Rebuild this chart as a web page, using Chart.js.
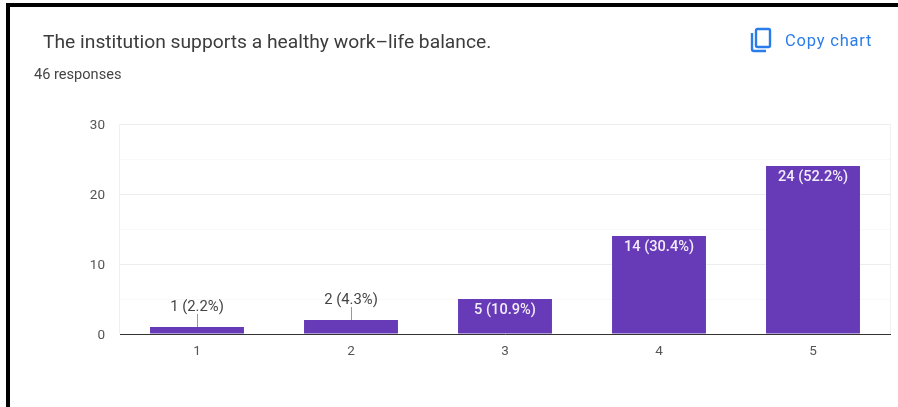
<!DOCTYPE html>
<html>
<head>
<meta charset="utf-8">
<style>
  html, body { margin: 0; padding: 0; background: #fff; }
  body { width: 898px; height: 407px; overflow: hidden; position: relative; font-family: Roboto, sans-serif; }
  #frame { position: absolute; left: 6px; top: 3px; width: 892px; height: 404px; border-top: 4px solid #000; border-left: 4px solid #000; box-sizing: border-box; }
  #title { position: absolute; left: 43px; top: 31px; font-size: 19.25px; line-height: 22px; color: #3c3c3c; white-space: nowrap; }
  #sub { position: absolute; left: 34px; top: 66px; font-size: 14.6px; line-height: 16px; color: #444; white-space: nowrap; }
  #copy { position: absolute; left: 785px; top: 32px; font-size: 16.5px; line-height: 18px; letter-spacing: 0.8px; color: #2a7de9; white-space: nowrap; }
  #icon { position: absolute; left: 750px; top: 27px; }
  #c { position: absolute; left: 0; top: 0; }
</style>
</head>
<body>
<canvas id="c" width="898" height="407"></canvas>
<div id="frame"></div>
<div id="title">The institution supports a healthy work–life balance.</div>
<div id="sub">46 responses</div>
<svg id="icon" width="22" height="26" viewBox="0 0 22 26" fill="none" stroke="#2a7de9" stroke-width="2.4">
  <rect x="6" y="2" width="14" height="18" rx="1.5"></rect>
  <path d="M2 6 V22 a2 2 0 0 0 2 2 H16"></path>
</svg>
<div id="copy">Copy chart</div>
<script src="https://cdn.jsdelivr.net/npm/chart.js@4"></script>
<script>
const categories = ['1', '2', '3', '4', '5'];
const counts = [1, 2, 5, 14, 24];
const percents = ['2.2%', '4.3%', '10.9%', '30.4%', '52.2%'];
const yTickLabels = [0, 10, 20, 30];

// value labels: inside the bar when it fits, otherwise above with a leader line
const barLabels = {
  id: 'barLabels',
  afterDatasetsDraw(chart) {
    const ctx = chart.ctx;
    chart.getDatasetMeta(0).data.forEach((bar, i) => {
      const text = counts[i] + ' (' + percents[i] + ')';
      ctx.save();
      ctx.textAlign = 'center';
      ctx.textBaseline = 'middle';
      if (counts[i] >= 5) {
        ctx.font = '500 14.6px Roboto';
        ctx.fillStyle = '#f1ecf9';
        ctx.fillText(text, bar.x, bar.y + 11);
      } else {
        ctx.strokeStyle = '#999';
        ctx.beginPath();
        ctx.moveTo(Math.round(bar.x) + 0.5, bar.y);
        ctx.lineTo(Math.round(bar.x) + 0.5, bar.y - 13);
        ctx.stroke();
        ctx.font = '14.8px Roboto';
        ctx.fillStyle = '#444';
        ctx.fillText(text, bar.x, bar.y - 20);
      }
      ctx.restore();
    });
  }
};

// light lines on the left and right of the plot
const plotSides = {
  id: 'plotSides',
  beforeDatasetsDraw(chart) {
    const { ctx, chartArea } = chart;
    ctx.save();
    ctx.strokeStyle = '#f0f0f0';
    ctx.beginPath();
    ctx.moveTo(chartArea.left - 0.5, chartArea.top);
    ctx.lineTo(chartArea.left - 0.5, chartArea.bottom);
    ctx.moveTo(chartArea.right + 0.5, chartArea.top);
    ctx.lineTo(chartArea.right + 0.5, chartArea.bottom);
    ctx.stroke();
    ctx.restore();
  }
};

new Chart(document.getElementById('c'), {
  type: 'bar',
  data: {
    labels: categories,
    datasets: [{
      data: counts,
      backgroundColor: '#673ab7',
      borderWidth: 0,
      barPercentage: 0.61,
      categoryPercentage: 1
    }]
  },
  plugins: [plotSides, barLabels],
  options: {
    responsive: false,
    animation: false,
    layout: { padding: { left: 0, top: 124, right: 8, bottom: 43 } },
    plugins: { legend: { display: false }, title: { display: false }, tooltip: { enabled: false } },
    scales: {
      x: {
        afterFit(scale) { scale.height = 30; },
        grid: { display: false },
        border: { display: true, color: '#333', width: 1 },
        ticks: { color: '#555', font: { family: 'Roboto', size: 13.5 }, padding: 2, maxRotation: 0 }
      },
      y: {
        min: 0,
        max: 30,
        afterFit(scale) { scale.width = 120; },
        grid: {
          drawTicks: false,
          color: (c) => (yTickLabels.includes(c.tick.value) ? '#ededed' : '#f8f8f8')
        },
        border: { display: false },
        ticks: {
          stepSize: 5,
          color: '#555',
          padding: 15,
          labelOffset: 1.5,
          font: { family: 'Roboto', size: 13.5 },
          callback: (v) => (yTickLabels.includes(v) ? String(v) : '')
        }
      }
    }
  }
});
</script>
</body>
</html>
